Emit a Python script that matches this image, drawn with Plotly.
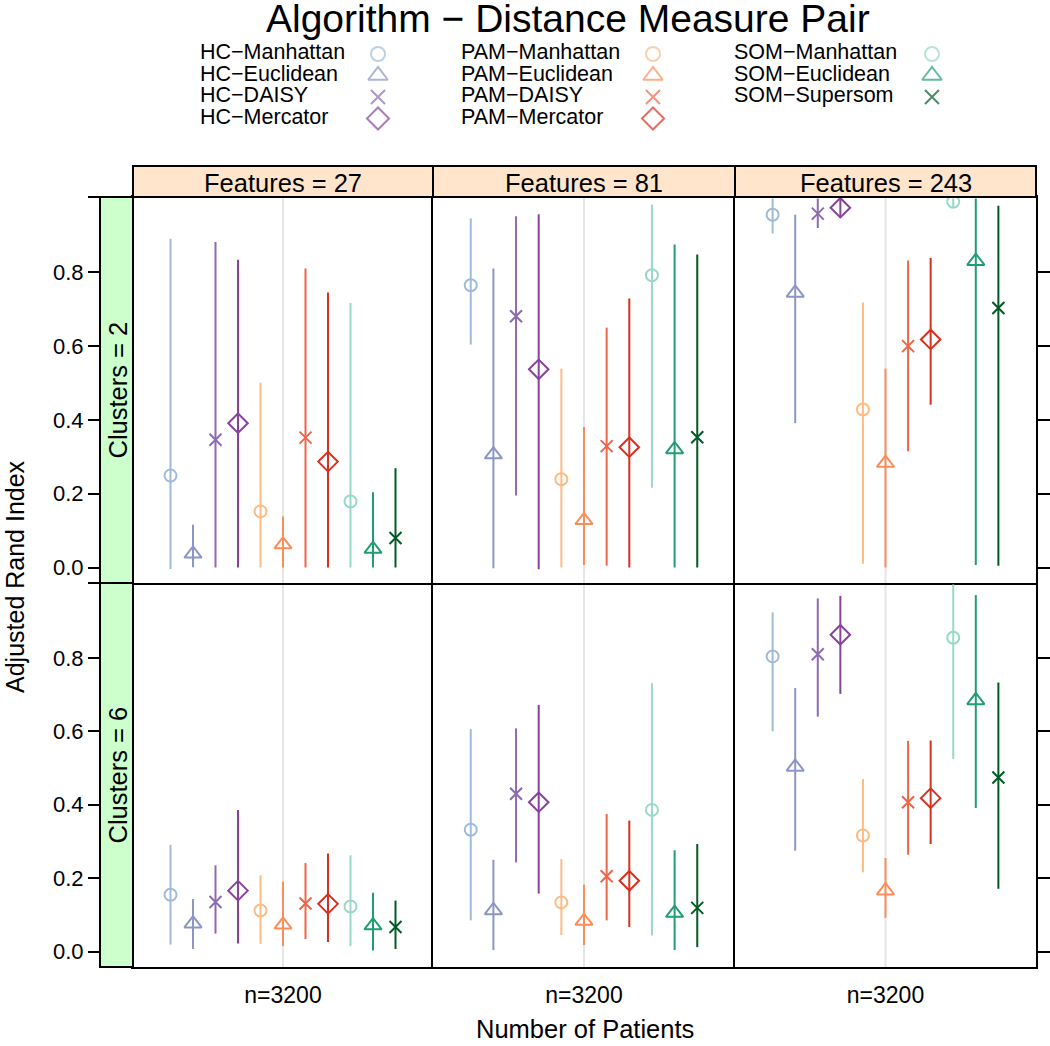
import plotly.graph_objects as go

W, H = 1050, 1046
FONT = "Liberation Sans, Arial, Helvetica, sans-serif"

# ---------------- data ----------------
series = ["HC−Manhattan", "HC−Euclidean", "HC−DAISY", "HC−Mercator",
          "PAM−Manhattan", "PAM−Euclidean", "PAM−DAISY", "PAM−Mercator",
          "SOM−Manhattan", "SOM−Euclidean", "SOM−Supersom"]
colors = ["#9EBCDA", "#8C96C6", "#8C6BB1", "#88419D",
          "#FDBB84", "#FC8D59", "#EF6548", "#D7301F",
          "#99D8C9", "#1F9E6F", "#005A24"]
symbols = ["circle-open", "triangle-up-open", "x-thin-open", "diamond-open",
           "circle-open", "triangle-up-open", "x-thin-open", "diamond-open",
           "circle-open", "triangle-up-open", "x-thin-open"]
features = [27, 81, 243]
clusters = [2, 6]
x_category = "n=3200"
y_ticks = [0.0, 0.2, 0.4, 0.6, 0.8]
y_ticktext = ["0.0", "0.2", "0.4", "0.6", "0.8"]

# Clusters = 2
median_k2_f27 = [0.249, 0.037, 0.346, 0.391, 0.152, 0.062, 0.352, 0.287, 0.179, 0.050, 0.080]
low_k2_f27 = [-0.004, 0.001, 0.000, 0.000, 0.000, 0.000, 0.000, 0.000, 0.000, 0.000, 0.000]
high_k2_f27 = [0.891, 0.116, 0.882, 0.834, 0.501, 0.138, 0.810, 0.745, 0.717, 0.204, 0.269]

median_k2_f81 = [0.765, 0.306, 0.681, 0.537, 0.239, 0.128, 0.329, 0.326, 0.792, 0.320, 0.353]
low_k2_f81 = [0.604, -0.002, 0.195, -0.005, 0.000, 0.007, 0.005, 0.000, 0.216, 0.000, 0.000]
high_k2_f81 = [0.946, 0.810, 0.952, 0.957, 0.539, 0.381, 0.650, 0.729, 0.984, 0.875, 0.848]

median_k2_f243 = [0.956, 0.744, 0.959, 0.975, 0.428, 0.283, 0.600, 0.618, 0.991, 0.830, 0.703]
low_k2_f243 = [0.905, 0.391, 0.920, 0.947, 0.010, 0.000, 0.315, 0.441, 0.975, 0.007, 0.005]
high_k2_f243 = [1.000, 0.956, 1.000, 1.000, 0.718, 0.539, 0.832, 0.839, 1.000, 1.000, 0.980]

# Clusters = 6
median_k6_f27 = [0.155, 0.076, 0.135, 0.166, 0.112, 0.073, 0.131, 0.130, 0.123, 0.071, 0.067]
low_k6_f27 = [0.019, 0.007, 0.049, 0.022, 0.021, 0.015, 0.034, 0.026, 0.015, 0.003, 0.007]
high_k6_f27 = [0.291, 0.143, 0.235, 0.386, 0.208, 0.191, 0.241, 0.267, 0.262, 0.160, 0.139]

median_k6_f81 = [0.332, 0.112, 0.430, 0.407, 0.134, 0.083, 0.205, 0.193, 0.386, 0.105, 0.119]
low_k6_f81 = [0.085, 0.004, 0.243, 0.158, 0.045, 0.018, 0.085, 0.067, 0.044, 0.004, 0.012]
high_k6_f81 = [0.606, 0.250, 0.608, 0.672, 0.252, 0.182, 0.375, 0.357, 0.731, 0.276, 0.293]

median_k6_f243 = [0.804, 0.503, 0.810, 0.863, 0.316, 0.166, 0.407, 0.418, 0.855, 0.684, 0.474]
low_k6_f243 = [0.600, 0.275, 0.640, 0.702, 0.216, 0.092, 0.264, 0.293, 0.525, 0.391, 0.171]
high_k6_f243 = [0.924, 0.718, 0.962, 0.969, 0.470, 0.255, 0.574, 0.575, 1.000, 0.971, 0.733]

panels = {
    (2, 27): (median_k2_f27, low_k2_f27, high_k2_f27),
    (2, 81): (median_k2_f81, low_k2_f81, high_k2_f81),
    (2, 243): (median_k2_f243, low_k2_f243, high_k2_f243),
    (6, 27): (median_k6_f27, low_k6_f27, high_k6_f27),
    (6, 81): (median_k6_f81, low_k6_f81, high_k6_f81),
    (6, 243): (median_k6_f243, low_k6_f243, high_k6_f243),
}

# ---------------- layout geometry (pixels) ----------------
col_px = [(133, 433), (433, 735), (735, 1036)]
row_px = [(197, 583), (583, 967)]
strip_top = 166
strip_left = (100, 133)
XR = [0.4, 1.6]
YR = [-0.042, 1.004]
DODGE = 0.09
LW = 2


def px_x(p):
    return p / W


def px_y(p):
    return 1 - p / H


def ax_suffix(n):
    return "" if n == 1 else str(n)


marker_sizes = {"circle-open": 12, "triangle-up-open": 15, "x-thin-open": 12, "diamond-open": 15}

fig = go.Figure()
layout = dict(
    width=W, height=H, margin=dict(l=0, r=0, t=0, b=0),
    paper_bgcolor="white", plot_bgcolor="rgba(0,0,0,0)",
    showlegend=False, font=dict(family=FONT, color="black"),
)
shapes = []
annotations = []

for r, k in enumerate(clusters):
    for c, f in enumerate(features):
        idx = r * 3 + c + 1
        sfx = ax_suffix(idx)
        xa, ya = f"x{sfx}", f"y{sfx}"
        med, lo, hi = panels[(k, f)]
        for i, name in enumerate(series):
            xpos = 1 + (i - (len(series) - 1) / 2) * DODGE
            sym = symbols[i]
            fig.add_trace(go.Scatter(
                x=[xpos], y=[med[i]], mode="markers", name=name,
                xaxis=xa, yaxis=ya, cliponaxis=True,
                marker=dict(symbol=sym, size=marker_sizes[sym], color=colors[i],
                            line=dict(color=colors[i], width=2)),
                error_y=dict(type="data", symmetric=False,
                             array=[hi[i] - med[i]], arrayminus=[med[i] - lo[i]],
                             color=colors[i], thickness=2, width=0),
                hoverinfo="name+y",
            ))
        x0, x1 = col_px[c]
        y0, y1 = row_px[r]
        layout[f"xaxis{sfx}"] = dict(
            domain=[px_x(x0), px_x(x1)], range=XR, anchor=ya,
            showgrid=False, zeroline=False, showline=True, mirror=(r == 0),
            linecolor="black", linewidth=LW, ticks="",
            tickvals=[1], ticktext=[x_category],
            showticklabels=(r == 1), tickfont=dict(size=23),
            ticklabelstandoff=6,
        )
        ycfg = dict(
            domain=[px_y(y1), px_y(y0)], range=YR, anchor=xa,
            showgrid=False, zeroline=False, showline=True, mirror=False,
            linecolor="black", linewidth=LW, showticklabels=False,
        )
        if c == 2:
            ycfg.update(side="right", mirror=True, ticks="outside", ticklen=13, tickwidth=LW,
                        tickcolor="black", tickvals=y_ticks)
        else:
            ycfg.update(ticks="")
        layout[f"yaxis{sfx}"] = ycfg
        # light reference line at the category
        shapes.append(dict(type="line", xref=xa, yref=f"{ya} domain", x0=1, x1=1, y0=0, y1=1,
                           line=dict(color="#E6E6E6", width=2), layer="below"))

# Left tick axes placed outside the left strip
for r, base in enumerate(["y", "y4"]):
    ax_id = 7 + r
    fig.add_trace(go.Scatter(x=[None], y=[None], xaxis="x" if r == 0 else "x4",
                             yaxis=f"y{ax_id}", showlegend=False, hoverinfo="skip"))
    layout[f"yaxis{ax_id}"] = dict(
        overlaying=base, anchor="free", position=px_x(strip_left[0]), side="left",
        range=YR, showgrid=False, zeroline=False, showline=False,
        ticks="outside", ticklen=12, tickwidth=LW, tickcolor="black",
        tickvals=y_ticks, ticktext=y_ticktext, tickfont=dict(size=22),
    )

# ---------------- key (legend) ----------------
key_text_x = [200, 461, 734]
key_sym_x = [378, 653, 932]
key_row_y0, key_row_dy = 54, 21.5
key_groups = [list(range(0, 4)), list(range(4, 8)), list(range(8, 11))]
kx_t, ky_t, kt, kx_s, ky_s, kc, ks, kz = [], [], [], [], [], [], [], []
for g, members in enumerate(key_groups):
    for j, i in enumerate(members):
        yrow = key_row_y0 + j * key_row_dy
        kx_t.append(key_text_x[g]); ky_t.append(yrow); kt.append(series[i])
        kx_s.append(key_sym_x[g]); ky_s.append(yrow); kc.append(colors[i])
        ks.append(symbols[i]); kz.append(marker_sizes[symbols[i]] + 2)
fig.add_trace(go.Scatter(x=kx_t, y=ky_t, text=kt, mode="text", textposition="middle right",
                         textfont=dict(size=21.5, color="black", family=FONT),
                         xaxis="x9", yaxis="y9", hoverinfo="skip", cliponaxis=False))
fig.add_trace(go.Scatter(x=kx_s, y=ky_s, mode="markers", xaxis="x9", yaxis="y9",
                         marker=dict(symbol=ks, size=kz, color=kc, line=dict(color=kc, width=2)),
                         hoverinfo="skip", cliponaxis=False))
layout["xaxis9"] = dict(domain=[0, 1], range=[0, W], visible=False, anchor="y9", fixedrange=True)
layout["yaxis9"] = dict(domain=[px_y(140), 1], range=[140, 0], visible=False, anchor="x9", fixedrange=True)

# ---------------- strips ----------------
for c, f in enumerate(features):
    x0, x1 = col_px[c]
    shapes.append(dict(type="rect", xref="paper", yref="paper",
                       x0=px_x(x0), x1=px_x(x1), y0=px_y(row_px[0][0]), y1=px_y(strip_top),
                       fillcolor="#FFE5CC", line=dict(color="black", width=LW), layer="above"))
    annotations.append(dict(text=f"Features = {f}", xref="paper", yref="paper",
                            x=px_x((x0 + x1) / 2), y=px_y((strip_top + row_px[0][0]) / 2 + 1),
                            showarrow=False, font=dict(size=25.5), xanchor="center", yanchor="middle"))
for r, k in enumerate(clusters):
    y0, y1 = row_px[r]
    shapes.append(dict(type="rect", xref="paper", yref="paper",
                       x0=px_x(strip_left[0]), x1=px_x(strip_left[1]), y0=px_y(y1), y1=px_y(y0),
                       fillcolor="#CCFFCC", line=dict(color="black", width=LW), layer="above"))
    annotations.append(dict(text=f"Clusters = {k}", xref="paper", yref="paper",
                            x=px_x(sum(strip_left) / 2 + 1), y=px_y((y0 + y1) / 2), textangle=-90,
                            showarrow=False, font=dict(size=25.5), xanchor="center", yanchor="middle"))
    shapes.append(dict(type="line", xref="paper", yref="paper",
                       x0=px_x(88), x1=px_x(strip_left[0]), y0=px_y(y0), y1=px_y(y0),
                       line=dict(color="black", width=LW)))

# ---------------- titles ----------------
annotations.append(dict(text="Algorithm − Distance Measure Pair", xref="paper", yref="paper",
                        x=px_x(568), y=px_y(19), showarrow=False, font=dict(size=39),
                        xanchor="center", yanchor="middle"))
annotations.append(dict(text="Adjusted Rand Index", xref="paper", yref="paper",
                        x=px_x(15), y=px_y(577), textangle=-90, showarrow=False,
                        font=dict(size=25), xanchor="center", yanchor="middle"))
annotations.append(dict(text="Number of Patients", xref="paper", yref="paper",
                        x=px_x(585), y=px_y(1029), showarrow=False,
                        font=dict(size=25.5), xanchor="center", yanchor="middle"))

layout["shapes"] = shapes
layout["annotations"] = annotations
fig.update_layout(**layout)
fig.write_html("out.html", config={"displayModeBar": False},
               post_script="document.body.style.margin='0';document.body.style.padding='0';")
